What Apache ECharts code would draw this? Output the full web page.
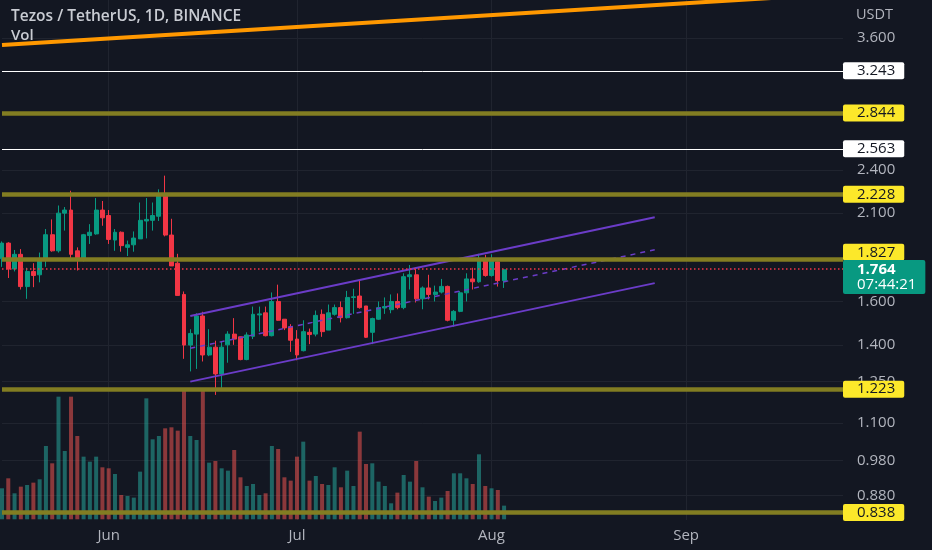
<!DOCTYPE html>
<html>
<head>
<meta charset="utf-8">
<script src="https://cdn.jsdelivr.net/npm/echarts@6/dist/echarts.min.js"></script>
<style>
  html, body { margin: 0; padding: 0; background: #131722; }
  #chart { width: 932px; height: 550px; }
</style>
</head>
<body>
<div id="chart"></div>
<script>
const firstDay = "2022-05-15";
const dayCount = 135;

const opens = [1.825,1.915,1.768,1.85,1.675,1.755,1.737,1.816,1.965,1.87,
  2.10,2.12,1.87,1.815,1.96,1.97,2.12,2.085,1.933,1.98,
  1.89,1.905,1.94,2.05,2.054,2.08,2.217,1.963,1.80,1.635,
  1.399,1.447,1.53,1.357,1.39,1.28,1.40,1.447,1.435,1.338,
  1.437,1.535,1.545,1.44,1.60,1.515,1.48,1.425,1.375,1.455,
  1.447,1.538,1.465,1.538,1.57,1.522,1.62,1.627,1.578,1.455,
  1.515,1.568,1.56,1.60,1.57,1.727,1.737,1.613,1.668,1.635,
  1.647,1.676,1.51,1.552,1.643,1.715,1.70,1.82,1.733,1.808,
  1.706];
const highs = [1.925,1.92,1.875,1.88,1.775,1.80,1.86,2.0,2.06,2.15,
  2.14,2.25,1.89,1.97,2.03,2.20,2.18,2.12,2.0,1.985,
  1.93,1.985,2.17,2.2,2.17,2.26,2.357,2.064,1.853,1.65,
  1.469,1.543,1.55,1.469,1.418,1.413,1.46,1.52,1.436,1.455,
  1.575,1.575,1.575,1.645,1.685,1.515,1.492,1.465,1.51,1.472,
  1.556,1.561,1.585,1.585,1.60,1.653,1.664,1.707,1.578,1.522,
  1.60,1.62,1.635,1.64,1.745,1.79,1.775,1.676,1.737,1.68,
  1.715,1.68,1.558,1.652,1.745,1.775,1.853,1.847,1.85,1.82,
  1.767];
const lows = [1.78,1.72,1.755,1.66,1.613,1.672,1.697,1.78,1.865,1.86,
  1.99,1.82,1.76,1.81,1.91,1.965,2.02,1.91,1.87,1.865,
  1.84,1.865,1.94,1.943,1.99,2.05,1.955,1.785,1.63,1.341,
  1.29,1.30,1.33,1.352,1.20,1.215,1.325,1.40,1.335,1.335,
  1.425,1.458,1.437,1.437,1.508,1.465,1.37,1.335,1.372,1.403,
  1.437,1.435,1.465,1.532,1.50,1.518,1.54,1.565,1.43,1.403,
  1.512,1.54,1.543,1.562,1.562,1.66,1.595,1.562,1.61,1.60,
  1.64,1.505,1.48,1.548,1.60,1.66,1.695,1.727,1.727,1.675,
  1.668];
const closes = [1.915,1.768,1.85,1.675,1.755,1.733,1.82,1.965,1.87,2.10,
  2.12,1.85,1.82,1.965,1.98,2.12,2.07,1.937,1.98,1.90,
  1.905,1.945,2.054,2.06,2.085,2.217,1.963,1.785,1.63,1.399,
  1.45,1.53,1.357,1.39,1.28,1.39,1.447,1.425,1.338,1.443,
  1.538,1.54,1.44,1.60,1.51,1.475,1.42,1.357,1.458,1.445,
  1.533,1.458,1.545,1.57,1.522,1.62,1.623,1.57,1.433,1.518,
  1.57,1.575,1.60,1.57,1.727,1.737,1.613,1.668,1.635,1.647,
  1.676,1.51,1.552,1.643,1.715,1.70,1.82,1.733,1.81,1.706,
  1.764];
// volume, millions
const volumes = [9.3,12.3,7.8,9.8,10.3,11.0,12.0,22.0,16.8,36.8,
  20.5,36.8,25.0,18.8,17.3,18.8,15.6,15.3,13.6,7.3,
  7.0,6.5,14.3,36.3,24.0,25.0,27.3,27.6,26.6,39.3,
  25.0,23.8,39.3,17.0,17.5,15.3,14.6,20.8,12.6,10.0,
  10.6,7.3,7.8,22.0,21.1,12.6,11.6,18.8,23.3,11.6,
  13.0,10.6,10.3,15.6,9.6,14.6,10.0,26.3,16.6,16.8,
  11.3,10.0,4.8,8.0,13.3,11.3,17.5,9.6,6.8,5.5,
  6.5,8.5,13.8,13.8,12.3,10.6,19.5,10.0,9.3,8.8,
  4.1];

const priceTicks = [3.6, 2.4, 2.1, 1.6, 1.4, 1.25, 1.1, 0.98, 0.88];
const priceMin = 0.8164;
const priceMax = 4.048;
const volMax = 40;

const yellowLevels = [2.844, 2.228, 1.827, 1.223, 0.838];
const whiteLevels = [3.243, 2.563];
const topLevel = 4.054;
const lastPrice = 1.764;
const countdown = "07:44:21";

const orangeTrend = [["2022-05-15", 3.525], ["2022-09-15", 4.075]];
const channelUpper = [["2022-06-14", 1.530], ["2022-08-27", 2.073]];
const channelMid = [["2022-06-14", 1.385], ["2022-08-27", 1.876]];
const channelLower = [["2022-06-14", 1.250], ["2022-08-27", 1.693]];

const monthNames = ["Jan","Feb","Mar","Apr","May","Jun","Jul","Aug","Sep","Oct","Nov","Dec"];

const upColor = "#089981";
const downColor = "#f23645";
const volUp = "rgba(38,166,154,0.55)";
const volDown = "rgba(239,83,80,0.55)";
const olive = "#827d22";
const tagYellow = "#fce82a";
const purple = "#6b3cc8";
const axisText = "#b2b5be";
const gridColor = "#20242f";
const font = "'Open Sans', Roboto, sans-serif";

const dates = [];
const d0 = new Date(firstDay + "T00:00:00Z");
for (let i = 0; i < dayCount; i++) {
  dates.push(new Date(d0.getTime() + i * 86400000).toISOString().slice(0, 10));
}
const isMonthStart = (i) => dates[i].slice(8) === "01";
const ln = (p) => Math.log(p);

const candleData = opens.map((o, i) => [ln(o), ln(closes[i]), ln(lows[i]), ln(highs[i])]);
const volData = volumes.map((v, i) => ({
  value: v,
  itemStyle: { color: closes[i] >= opens[i] ? volUp : volDown }
}));
const toLine = (pts) => pts.map(p => [p[0], ln(p[1])]);

function levelLine(p, color, width, bg) {
  // nudge a tag up when it would sit on the live price tag
  const shift = Math.abs(ln(p / lastPrice)) < 0.05 ? -7 : 0;
  return {
    yAxis: ln(p),
    lineStyle: { color: color, width: width, type: "solid" },
    label: {
      show: true, position: "end", distance: 0,
      formatter: p.toFixed(3),
      backgroundColor: bg, color: "#131722", borderRadius: 2,
      fontFamily: font, fontSize: 15, lineHeight: 15,
      padding: [1, 9, 1, 14], offset: [0, shift]
    }
  };
}

const markData = [];
markData.push({ yAxis: ln(topLevel), lineStyle: { color: olive, width: 4, type: "solid" }, label: { show: false } });
yellowLevels.forEach(p => markData.push(levelLine(p, olive, 4.5, tagYellow)));
whiteLevels.forEach(p => markData.push(levelLine(p, "#ffffff", 1, "#ffffff")));
markData.push({
  yAxis: ln(lastPrice),
  lineStyle: { color: downColor, width: 1.5, type: [1.5, 2.5] },
  label: {
    show: true, position: "end", distance: 0,
    formatter: "{p|" + lastPrice.toFixed(3) + "}\n{t|" + countdown + "}",
    backgroundColor: upColor, borderRadius: 2,
    padding: [2, 9, 2, 14], offset: [0, 8],
    rich: {
      p: { color: "#ffffff", fontFamily: font, fontSize: 15, lineHeight: 15, fontWeight: "bold" },
      t: { color: "#ffffff", fontFamily: font, fontSize: 15, lineHeight: 15 }
    }
  }
});

const chart = echarts.init(document.getElementById("chart"));
chart.setOption({
  backgroundColor: "#131722",
  animation: false,
  title: [
    { text: "Tezos / TetherUS, 1D, BINANCE", left: 11, top: 9, padding: 0,
      textStyle: { color: "#c9ccd3", fontSize: 15.5, fontWeight: 600, fontFamily: font } },
    { text: "Vol", left: 11, top: 28, padding: 0,
      textStyle: { color: "#c9ccd3", fontSize: 15, fontWeight: 600, fontFamily: font } },
    { text: "USDT", left: 856, top: 7, padding: 0,
      textStyle: { color: axisText, fontSize: 14.5, fontWeight: "normal", fontFamily: font } }
  ],
  grid: [
    { left: 2, right: 89, top: 0, bottom: 30 },
    { left: 2, right: 89, top: 386, bottom: 30.7 }
  ],
  xAxis: [
    {
      type: "category", data: dates, boundaryGap: false, gridIndex: 0,
      axisLine: { show: false }, axisTick: { show: false },
      axisLabel: {
        interval: (i) => isMonthStart(i),
        formatter: (v) => monthNames[parseInt(v.slice(5, 7), 10) - 1],
        color: axisText, fontSize: 15, fontFamily: font, margin: 8
      },
      splitLine: { show: true, interval: (i) => isMonthStart(i), lineStyle: { color: gridColor, width: 1 } }
    },
    { type: "category", data: dates, boundaryGap: false, gridIndex: 1, show: false }
  ],
  yAxis: [
    {
      type: "value", gridIndex: 0, position: "right",
      min: ln(priceMin), max: ln(priceMax),
      axisLine: { show: false },
      axisTick: { show: false, customValues: priceTicks.map(ln) },
      axisLabel: {
        customValues: priceTicks.map(ln),
        formatter: (v) => Math.exp(v).toFixed(3),
        color: axisText, fontSize: 15, fontFamily: font, margin: 14
      },
      splitLine: { show: true, lineStyle: { color: gridColor, width: 1 } }
    },
    { type: "value", gridIndex: 1, min: 0, max: volMax, show: false, splitLine: { show: false } }
  ],
  series: [
    {
      name: "Vol", type: "bar", xAxisIndex: 1, yAxisIndex: 1,
      data: volData, barWidth: 4, silent: true, z: 1
    },
    {
      name: "XTZUSDT", type: "candlestick", xAxisIndex: 0, yAxisIndex: 0,
      data: candleData, barWidth: 4.4, clip: false, silent: true, z: 2,
      itemStyle: { color: upColor, color0: downColor, borderColor: upColor, borderColor0: downColor, borderWidth: 1 },
      markLine: { symbol: ["none", "none"], silent: true, animation: false, data: markData }
    },
    {
      type: "line", data: toLine(orangeTrend), symbol: "none", silent: true, z: 4,
      lineStyle: { color: "#ff9800", width: 4 }
    },
    {
      type: "line", data: toLine(channelUpper), symbol: "none", silent: true, z: 4,
      lineStyle: { color: purple, width: 2 }
    },
    {
      type: "line", data: toLine(channelLower), symbol: "none", silent: true, z: 4,
      lineStyle: { color: purple, width: 2 }
    },
    {
      type: "line", data: toLine(channelMid), symbol: "none", silent: true, z: 4,
      lineStyle: { color: purple, width: 1.5, type: [5, 5] }
    }
  ]
});
</script>
</body>
</html>
